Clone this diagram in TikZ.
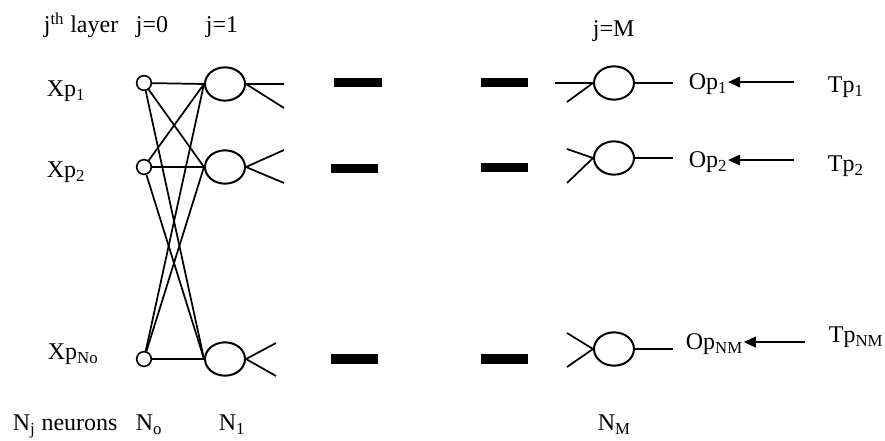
\documentclass[tikz,border=0pt]{standalone}
\usepackage{fontspec}
\setmainfont{Liberation Serif}
\usetikzlibrary{shapes.geometric,arrows.meta}

\tikzset{
  inp/.style={circle,draw,line width=1.2pt,minimum size=11pt,inner sep=0pt},
  neuron/.style={ellipse,draw,line width=1.5pt,minimum width=30pt,minimum height=25pt,inner sep=0pt},
  lbl/.style={anchor=base west,inner sep=0pt},
  outlbl/.style={lbl,text depth=0pt},
  tgt/.style={-{Triangle[length=9pt,width=8pt]},line width=1.4pt}
}

\begin{document}
\begin{tikzpicture}[x=0.75pt,y=-0.75pt,line width=1.3pt,font=\fontsize{18}{21}\selectfont]
\useasboundingbox (0,0) rectangle (885,441);

% header
\node[lbl] (hlayer) at (43,33) {j\textsuperscript{th} layer};
\node[lbl] (hj0) at (135,33) {j=0};
\node[lbl] (hj1) at (205,33) {j=1};
\node[lbl] (hjM) at (592,37) {j=M};

% inputs
\node[lbl] (xp1) at (46,97) {Xp\textsubscript{1}};
\node[lbl] (xp2) at (46,178) {Xp\textsubscript{2}};
\node[lbl] (xp3) at (47,360) {Xp\textsubscript{No}};

\node[inp] (i1) at (144,83) {};
\node[inp] (i2) at (144,167) {};
\node[inp] (i3) at (144,359) {};

\node[neuron] (h1) at (225,84) {};
\node[neuron] (h2) at (225,167) {};
\node[neuron] (h3) at (225,359) {};

\foreach \i in {1,2,3}
  \foreach \h in {1,2,3}
    \draw (i\i) -- (h\h.west);

\draw (h1.east) -- +(38,0) (h1.east) -- +(38,24);
\draw (h2.east) -- +(38,-17) (h2.east) -- +(38,16);
\draw (h3.east) -- +(30,-16) (h3.east) -- +(30,17);

% the layers in between
\fill (334,78) rectangle (382,87);
\fill (481,78) rectangle (528,87);
\fill (331,164) rectangle (378,173);
\fill (481,163) rectangle (528,172);
\fill (331,354) rectangle (378,364);
\fill (481,354) rectangle (528,364);

% outputs
\node[neuron] (o1) at (614,83) {};
\node[neuron] (o2) at (614,158) {};
\node[neuron] (o3) at (614,349) {};

\draw (o1.west) -- +(-38,0) (o1.west) -- +(-26,19);
\draw (o2.west) -- +(-26,-9) (o2.west) -- +(-26,25);
\draw (o3.west) -- +(-26,-16) (o3.west) -- +(-26,18);
\draw (o1.east) -- +(38,0);
\draw (o2.east) -- +(38,0);
\draw (o3.east) -- +(38,0);

\node[outlbl] (op1) at (688,90) {Op\textsubscript{1}};
\node[outlbl] (op2) at (688,168) {Op\textsubscript{2}};
\node[outlbl] (op3) at (685,350) {Op\textsubscript{NM}};
\node[outlbl] (tp1) at (827,93) {Tp\textsubscript{1}};
\node[outlbl] (tp2) at (827,172) {Tp\textsubscript{2}};
\node[outlbl] (tp3) at (828,343) {Tp\textsubscript{NM}};

\draw[tgt,shorten <=25pt] (tp1.west |- op1.east) -- (op1.east);
\draw[tgt,shorten <=25pt] (tp2.west |- op2.east) -- (op2.east);
\draw[tgt,shorten <=17pt] (tp3.west |- op3.east) -- (op3.east);

% neurons per layer
\node[lbl] (nj) at (12,431) {N\textsubscript{j} neurons};
\node[lbl] (n0) at (135,431) {N\textsubscript{o}};
\node[lbl] (n1) at (218,431) {N\textsubscript{1}};
\node[lbl] (nM) at (597,431) {N\textsubscript{M}};
\end{tikzpicture}
\end{document}
